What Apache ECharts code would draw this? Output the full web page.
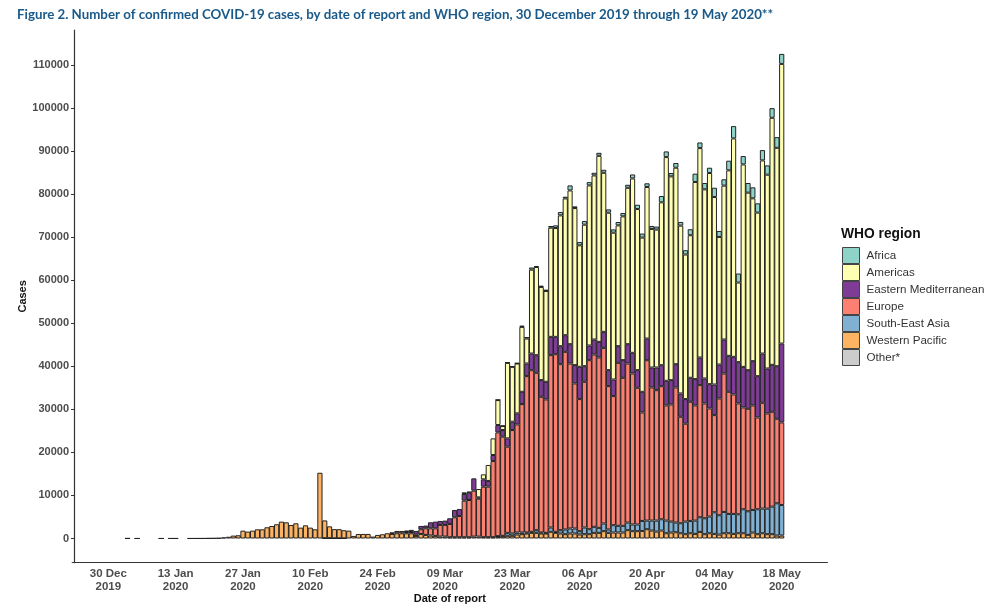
<!DOCTYPE html>
<html>
<head>
<meta charset="utf-8">
<style>html,body{margin:0;padding:0;background:#fff}#main{width:1000px;height:608px}</style>
<script src="https://cdn.jsdelivr.net/npm/echarts@6/dist/echarts.min.js"></script>
</head>
<body>
<div id="main"></div>
<script>
function blank(n) { return new Array(n).fill(null); }

var yTicks = [0, 10000, 20000, 30000, 40000, 50000, 60000, 70000, 80000, 90000, 100000, 110000];
var months = ['Jan', 'Feb', 'Mar', 'Apr', 'May', 'Jun', 'Jul', 'Aug', 'Sep', 'Oct', 'Nov', 'Dec'];

// one value per day from 30 Dec 2019 (index 0) to 18 May 2020 (index 140)
var westernPacific = [
    null, null, null, null, 30, null, 15, null, null, null,
    null, 15, null, 15, 15, null, null, 15, 15, 20,
    20, 50, 60, 100, 250, 400, 670, 750, 1820, 1600,
    1820, 2130, 2130, 2600, 2900, 3300, 3910, 3760, 3140, 3530,
    2520, 3060, 2520, 2130, 15270, 4140, 2750, 2130, 2130, 1900,
    1820, 590, 1050, 1060, 1060, 440, 830, 980, 1210, 1060,
    1210, 1210, 1210, 1210, 600, 1060, 830, 680, 600, 440,
    440, 280, 280, 280, 280, 280, 440, 440, 300, 300,
    300, 390, 460, 620, 620, 930, 1000, 1160, 1310, 1310,
    1160, 1160, 1550, 1310, 1160, 1000, 1160, 1160, 930, 1000,
    1000, 1310, 1310, 1700, 1310, 1390, 1390, 1390, 1930, 1700,
    1700, 1760, 2150, 1840, 1610, 1840, 1220, 1380, 1450, 1220,
    1000, 1220, 1070, 1530, 1000, 1220, 1070, 910, 1220, 1220,
    1070, 1220, 1220, 840, 1380, 1000, 1220, 1000, 1000, 680,
    680
];
var southEastAsia = blank(81).concat([
    150, 160, 690, 540, 460, 390, 230, 240, 620,
    230, 150, 1000, 240, 770, 1090, 1160, 1160, 770, 1550,
    1160, 1400, 1160, 1780, 780, 1700, 1550, 1550, 1770, 1550,
    1550, 2320, 2010, 2320, 2550, 2630, 2940, 2550, 2250, 2320,
    2930, 2860, 3090, 3400, 3700, 3870, 5020, 4490, 4950, 4490,
    4640, 4410, 5570, 5480, 5250, 5790, 5720, 5940, 6410, 7500,
    7110
]);
var europe = blank(59).concat([
    380,
    540, 540, 300, 300, 300, 1080, 1540, 1690, 1770, 2710,
    2710, 3100, 4640, 4950, 8510, 8660, 10670, 8810, 11730, 11750,
    17680, 24110, 23030, 20020, 24030, 25110, 29830, 36330, 37550, 36560,
    31530, 30990, 40040, 41270, 38570, 41270, 38330, 33700, 30680, 33850,
    39270, 40030, 39580, 40800, 33310, 29990, 37870, 34390, 36950, 35080,
    31760, 25200, 37260, 30920, 30300, 30920, 26750, 27210, 31380, 24740,
    22730, 27680, 26750, 30690, 26670, 25120, 22570, 27130, 32160, 28370,
    27750, 25740, 23650, 23810, 24280, 21330, 24580, 22110, 22030, 19630,
    19170
]);
var easternMediterranean = blank(62).concat([
    340, 490, 850, 770, 630, 1390, 1550, 920,
    1000, 1310, 1700, 1630, 1550, 1700, 2860, 300, 1710, 1320,
    1420, 1700, 1540, 1930, 1940, 2560, 2860, 2930, 3870, 4090,
    3870, 4100, 4250, 4020, 4170, 3860, 4480, 4250, 7500, 3630,
    3400, 3480, 3630, 3720, 3710, 3860, 3860, 4100, 4490, 4800,
    4100, 4790, 5030, 4640, 5260, 4870, 5720, 5640, 5410, 5410,
    5720, 5570, 6110, 6420, 5800, 5640, 7110, 7880, 7890, 8350,
    8740, 9590, 9430, 8970, 10280, 9590, 11440, 10440, 10900, 12210,
    18320
]);
var americas = blank(74).concat([
    380, 240, null, 1940, 1160, 3710,
    3860, 5800, 930, 17540, 12750, 11590, 15070, 5800, 19480, 20490,
    21640, 21100, 25360, 25280, 30390, 31780, 35730, 36490, 28220, 32870,
    37190, 38120, 43220, 36950, 36570, 34100, 28070, 33400, 36330, 40510,
    37420, 35830, 35210, 32190, 32040, 37830, 51970, 47340, 45640, 38990,
    33590, 33120, 45800, 48650, 43940, 49050, 43550, 29640, 35750, 43090,
    50740, 18500, 47030, 41240, 37830, 37990, 44870, 45020, 57390, 50740,
    64970
]);
var africa = blank(81).concat([
    80, 80, 80, 80, 100, 300, 350, 500, 200,
    300, 300, 390, 620, 770, 390, 1160, 390, 760, 850,
    770, 610, 690, 700, 770, 770, 780, 770, 700, 930,
    1000, 930, 850, 690, 690, 1470, 1320, 780, 1090, 850,
    1000, 1390, 1930, 1310, 1470, 1230, 2160, 1390, 1470, 2240,
    2860, 2090, 1940, 2240, 2550, 2160, 2400, 2160, 2240, 2470,
    2320
]);
var other = blank(45).concat([60, 70, 40, 30, 20]).concat(blank(91));

var regionNames = ['Africa', 'Americas', 'Eastern Mediterranean', 'Europe', 'South-East Asia', 'Western Pacific', 'Other*'];
var regionColors = ['#8dd3c7', '#ffffb3', '#7f3c96', '#fb8072', '#80b1d3', '#fdb462', '#cccccc'];
var regionValues = [africa, americas, easternMediterranean, europe, southEastAsia, westernPacific, other];

// the axis runs 7 days before the first date and 9 days past the last one
var padBefore = 7;
var padAfter = 9;
var categories = [];
for (var i = -padBefore; i <= 140 + padAfter; i++) {
    var d = new Date(Date.UTC(2019, 11, 30 + i));
    var day = d.getUTCDate();
    categories.push((day < 10 ? '0' : '') + day + ' ' + months[d.getUTCMonth()] + '\n' + d.getUTCFullYear());
}

function isTick(index) {
    var n = index - padBefore;
    return n >= 0 && n <= 140 && n % 14 === 0;
}

// ggplot stacks the first level on top, so go through the regions backwards
var series = [];
for (var k = regionNames.length - 1; k >= 0; k--) {
    series.push({
        name: regionNames[k],
        type: 'bar',
        stack: 'cases',
        barWidth: 5.2,
        data: blank(padBefore).concat(regionValues[k]).concat(blank(padAfter)),
        itemStyle: { color: regionColors[k], borderColor: '#222', borderWidth: 1 },
        emphasis: { disabled: true }
    });
}

var myChart = echarts.init(document.getElementById('main'), null, { renderer: 'canvas' });
var option = {
    animation: false,
    backgroundColor: '#fff',
    title: [
        {
            text: 'Figure 2. Number of confirmed COVID-19 cases, by date of report and WHO region, 30 December 2019 through 19 May 2020**',
            left: 12, top: 3,
            textStyle: { fontFamily: 'Lato', fontWeight: 'bold', fontSize: 13.3, color: '#1a5a8a' }
        },
        {
            text: 'WHO region',
            left: 836, top: 222,
            textStyle: { fontFamily: 'Liberation Sans', fontWeight: 'bold', fontSize: 13.8, color: '#111' }
        }
    ],
    legend: {
        data: regionNames,
        orient: 'vertical',
        left: 837, top: 242,
        itemWidth: 17, itemHeight: 16, itemGap: 0,
        icon: 'rect',
        selectedMode: false,
        itemStyle: { borderColor: '#444', borderWidth: 1 },
        textStyle: { fontFamily: 'Liberation Sans', fontSize: 11.6, color: '#333', padding: [0, 0, 0, 2] }
    },
    grid: { left: 72.2, right: 172.6, top: 30, bottom: 45.3, outerBoundsMode: 'none' },
    xAxis: {
        type: 'category',
        data: categories,
        boundaryGap: true,
        name: 'Date of report',
        nameLocation: 'middle',
        nameGap: 31,
        nameMoveOverlap: false,
        nameTextStyle: { fontFamily: 'Liberation Sans', fontWeight: 'bold', fontSize: 11, color: '#111' },
        axisLine: { onZero: false, lineStyle: { color: '#333', width: 1.2 } },
        axisTick: { alignWithLabel: true, interval: isTick, length: 3, lineStyle: { color: '#333' } },
        axisLabel: {
            interval: isTick,
            margin: 5,
            lineHeight: 13,
            fontFamily: 'Liberation Sans', fontWeight: 'bold', fontSize: 11.5, color: '#4d4d4d'
        },
        splitLine: { show: false }
    },
    yAxis: {
        type: 'value',
        min: -5625,
        max: 118125,
        offset: -1.8,
        name: 'Cases',
        nameLocation: 'middle',
        nameGap: 46,
        nameMoveOverlap: false,
        nameTextStyle: { fontFamily: 'Liberation Sans', fontWeight: 'bold', fontSize: 11, color: '#111' },
        axisLine: { show: true, onZero: false, lineStyle: { color: '#333', width: 1.2 } },
        axisTick: { show: true, length: 3, customValues: yTicks, lineStyle: { color: '#333' } },
        axisLabel: {
            customValues: yTicks,
            formatter: function (v) { return String(v); },
            margin: 5,
            fontFamily: 'Liberation Sans', fontWeight: 'bold', fontSize: 11, color: '#4d4d4d'
        },
        splitLine: { show: false }
    },
    series: series
};
myChart.setOption(option);
</script>
</body>
</html>
